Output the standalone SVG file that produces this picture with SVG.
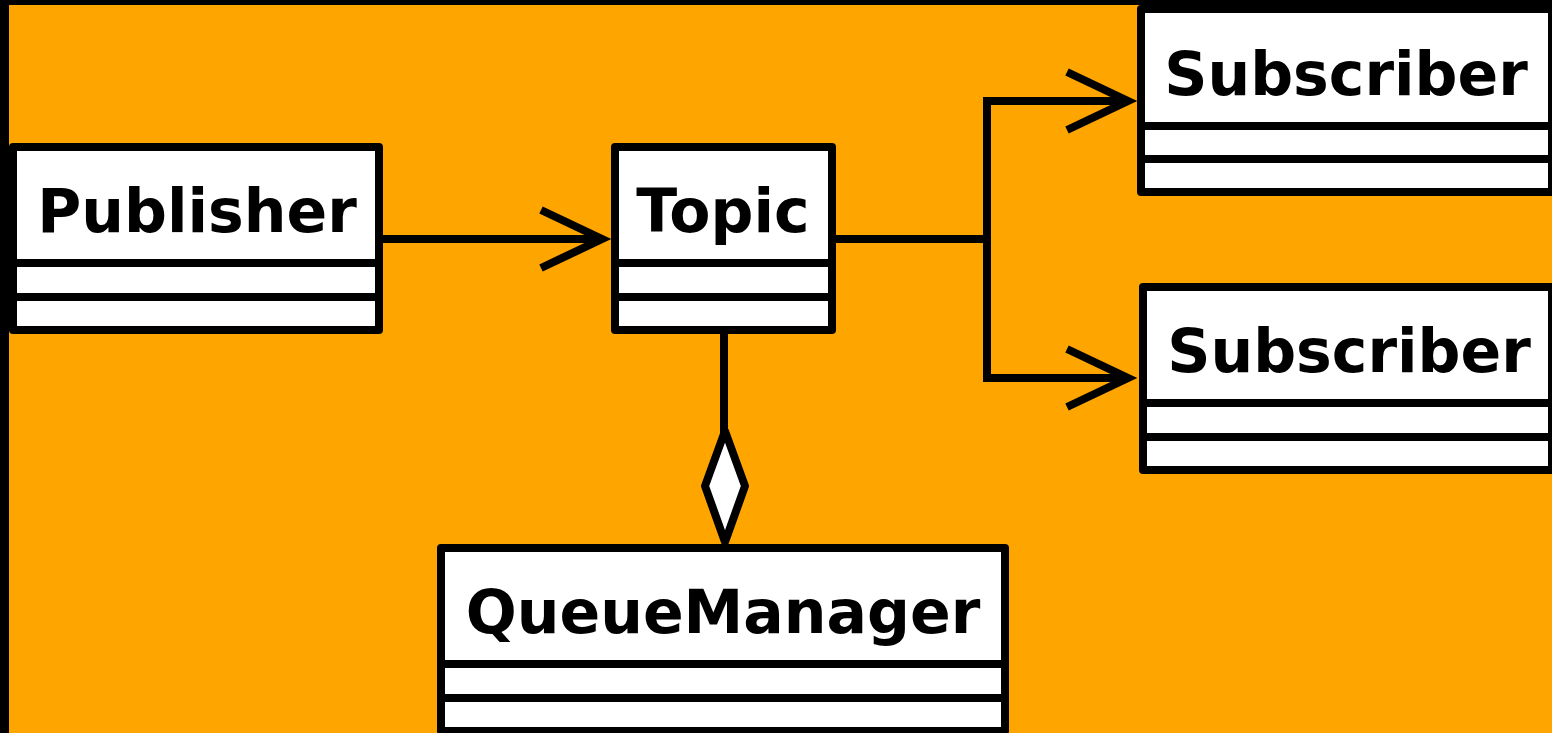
<svg xmlns="http://www.w3.org/2000/svg" width="1552" height="733" viewBox="0 0 1552 733">
  <style>
    .box { fill: #ffffff; stroke: #000000; stroke-width: 8; stroke-linejoin: round; }
    .div { stroke: #000000; stroke-width: 8; }
    .name { font-family: "DejaVu Sans", "Liberation Sans", sans-serif; font-weight: bold; font-size: 60px; fill: #000000; text-anchor: middle; }
    .edge { fill: none; stroke: #000000; stroke-width: 8; stroke-linejoin: miter; }
    .diamond { fill: #ffffff; stroke: #000000; stroke-width: 8; stroke-linejoin: round; }
  </style>

  <!-- canvas -->
  <rect x="0" y="0" width="1552" height="733" fill="#000000"/>
  <rect x="9" y="5" width="1543" height="728" fill="#FFA500"/>

  <!-- connectors -->
  <g id="connectors">
    <!-- Publisher -> Topic -->
    <path class="edge" d="M383,239 H602"/>
    <polyline class="edge" points="541,210 602,239 541,268"/>
    <!-- Topic -> Subscribers (forked) -->
    <path class="edge" d="M836,239 H987"/>
    <path class="edge" d="M1128,101 H987 V378 H1128"/>
    <polyline class="edge" points="1067,72 1128,101 1067,130"/>
    <polyline class="edge" points="1067,349 1128,378 1067,407"/>
    <!-- Topic <>- QueueManager (aggregation) -->
    <path class="edge" d="M724,334 V433"/>
    <polygon class="diamond" points="725,431 745,486 725,542 705,486"/>
  </g>

  <g id="publisher">
    <rect class="box" x="13" y="147" width="366" height="183"/>
    <line class="div" x1="13" y1="263" x2="379" y2="263"/>
    <line class="div" x1="13" y1="297" x2="379" y2="297"/>
    <text class="name" x="197" y="232">Publisher</text>
  </g>

  <g id="topic">
    <rect class="box" x="615" y="147" width="217" height="183"/>
    <line class="div" x1="615" y1="263" x2="832" y2="263"/>
    <line class="div" x1="615" y1="297" x2="832" y2="297"/>
    <text class="name" x="723" y="232">Topic</text>
  </g>

  <g id="subscriber-1">
    <rect class="box" x="1141" y="9" width="411" height="183"/>
    <line class="div" x1="1141" y1="126" x2="1552" y2="126"/>
    <line class="div" x1="1141" y1="159" x2="1552" y2="159"/>
    <text class="name" x="1346" y="95">Subscriber</text>
  </g>

  <g id="subscriber-2">
    <rect class="box" x="1143" y="287" width="409" height="183"/>
    <line class="div" x1="1143" y1="403" x2="1552" y2="403"/>
    <line class="div" x1="1143" y1="437" x2="1552" y2="437"/>
    <text class="name" x="1349" y="372">Subscriber</text>
  </g>

  <g id="queue-manager">
    <rect class="box" x="441" y="548" width="564" height="183"/>
    <line class="div" x1="441" y1="664" x2="1005" y2="664"/>
    <line class="div" x1="441" y1="698" x2="1005" y2="698"/>
    <text class="name" x="723" y="633">QueueManager</text>
  </g>
</svg>
